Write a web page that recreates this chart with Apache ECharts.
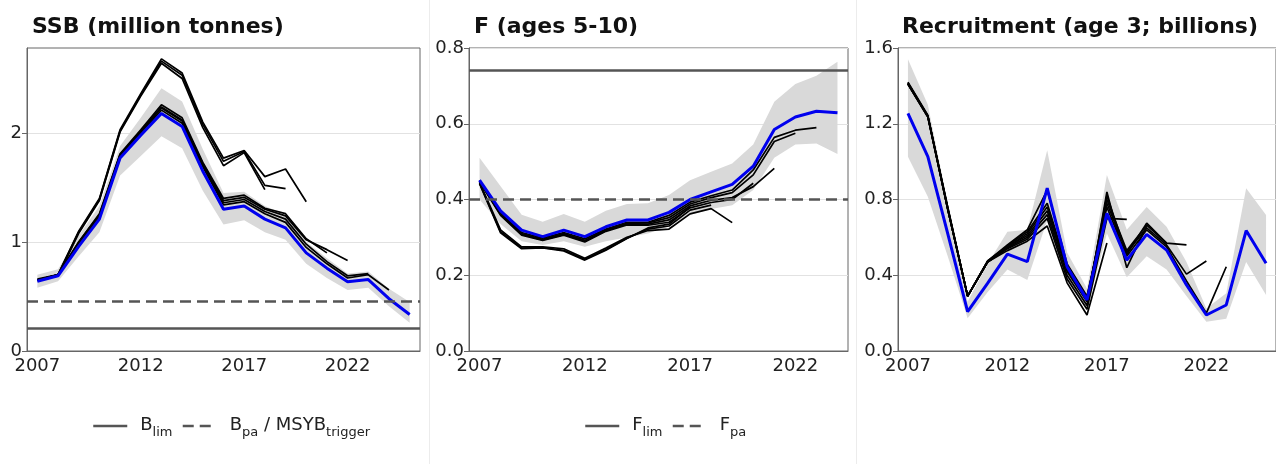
<!DOCTYPE html>
<html>
<head>
<meta charset="utf-8">
<script src="https://cdn.jsdelivr.net/npm/echarts@6/dist/echarts.min.js"></script>
<style>
  html, body { margin: 0; padding: 0; background: #fff; }
  #main { width: 1276px; height: 464px; }
</style>
</head>
<body>
<div id="main"></div>
<script>
  // years
  const yearsSSB = ['2007','2008','2009','2010','2011','2012','2013','2014','2015','2016','2017','2018','2019','2020','2021','2022','2023','2024','2025'];
  const yearsF = ['2007','2008','2009','2010','2011','2012','2013','2014','2015','2016','2017','2018','2019','2020','2021','2022','2023','2024'];
  const yearsRec = yearsSSB;

  // SSB (million tonnes)
  const ssbFinal = [0.64, 0.69, 0.96, 1.21, 1.77, 1.98, 2.18, 2.06, 1.65, 1.30, 1.33, 1.21, 1.13, 0.90, 0.76, 0.635, 0.655, 0.48, 0.335];
  const ssbLow = [0.58, 0.64, 0.87, 1.09, 1.61, 1.79, 1.97, 1.86, 1.47, 1.16, 1.20, 1.09, 1.02, 0.80, 0.67, 0.56, 0.58, 0.41, 0.26];
  const ssbHigh = [0.70, 0.75, 1.06, 1.33, 1.88, 2.14, 2.41, 2.29, 1.85, 1.45, 1.46, 1.33, 1.25, 1.00, 0.85, 0.71, 0.73, 0.57, 0.45];
  const ssbRetro2024 = [0.645, 0.70, 0.98, 1.23, 1.79, 2.00, 2.21, 2.09, 1.69, 1.34, 1.37, 1.26, 1.18, 0.95, 0.80, 0.67, 0.70, 0.56];
  const ssbRetro2023 = [0.65, 0.70, 0.99, 1.24, 1.80, 2.01, 2.23, 2.11, 1.71, 1.36, 1.39, 1.28, 1.21, 0.98, 0.82, 0.69, 0.71];
  const ssbRetro2022 = [0.65, 0.70, 1.00, 1.25, 1.80, 2.02, 2.24, 2.12, 1.72, 1.38, 1.41, 1.30, 1.24, 1.02, 0.93, 0.83];
  const ssbRetro2021 = [0.65, 0.70, 1.00, 1.26, 1.81, 2.03, 2.26, 2.14, 1.73, 1.40, 1.43, 1.31, 1.26, 1.03, 0.90];
  const ssbRetro2020 = [0.66, 0.70, 1.10, 1.40, 2.03, 2.36, 2.68, 2.55, 2.10, 1.77, 1.84, 1.60, 1.67, 1.37];
  const ssbRetro2019 = [0.65, 0.70, 1.09, 1.39, 2.02, 2.35, 2.66, 2.53, 2.08, 1.74, 1.83, 1.52, 1.49];
  const ssbRetro2018 = [0.65, 0.69, 1.08, 1.38, 2.01, 2.34, 2.64, 2.50, 2.05, 1.70, 1.82, 1.48];
  const bLim = 0.21;
  const bPa = 0.46;

  // F (ages 5-10)
  const fFinal = [0.451, 0.370, 0.319, 0.302, 0.319, 0.302, 0.328, 0.346, 0.346, 0.366, 0.400, 0.420, 0.440, 0.488, 0.585, 0.618, 0.633, 0.629];
  const fLow = [0.40, 0.335, 0.29, 0.28, 0.29, 0.275, 0.29, 0.30, 0.31, 0.33, 0.36, 0.375, 0.385, 0.425, 0.51, 0.545, 0.548, 0.52];
  const fHigh = [0.51, 0.435, 0.36, 0.341, 0.362, 0.341, 0.37, 0.388, 0.39, 0.412, 0.451, 0.473, 0.495, 0.545, 0.658, 0.705, 0.727, 0.764];
  const fRetro2023 = [0.450, 0.365, 0.313, 0.298, 0.313, 0.296, 0.322, 0.340, 0.340, 0.358, 0.393, 0.410, 0.425, 0.478, 0.564, 0.583, 0.590];
  const fRetro2022 = [0.449, 0.362, 0.310, 0.295, 0.310, 0.292, 0.320, 0.337, 0.338, 0.352, 0.388, 0.405, 0.418, 0.465, 0.553, 0.575];
  const fRetro2021 = [0.448, 0.360, 0.308, 0.293, 0.308, 0.290, 0.318, 0.335, 0.335, 0.346, 0.383, 0.398, 0.405, 0.434, 0.482];
  const fRetro2020 = [0.447, 0.358, 0.306, 0.292, 0.306, 0.288, 0.316, 0.333, 0.332, 0.340, 0.378, 0.392, 0.400, 0.443];
  const fRetro2019 = [0.445, 0.320, 0.275, 0.275, 0.270, 0.245, 0.272, 0.300, 0.318, 0.322, 0.362, 0.376, 0.339];
  const fRetro2018 = [0.443, 0.315, 0.272, 0.273, 0.266, 0.242, 0.268, 0.298, 0.322, 0.330, 0.372, 0.385];
  const fRetro2017 = [0.442, 0.312, 0.270, 0.272, 0.264, 0.240, 0.266, 0.297, 0.325, 0.335, 0.380];
  const fLim = 0.74;
  const fPa = 0.40;

  // Recruitment (age 3; billions)
  const recFinal = [1.255, 1.026, 0.62, 0.208, 0.357, 0.512, 0.472, 0.860, 0.445, 0.270, 0.727, 0.480, 0.616, 0.533, 0.349, 0.190, 0.243, 0.636, 0.463];
  const recLow = [1.026, 0.815, 0.50, 0.173, 0.31, 0.43, 0.375, 0.69, 0.375, 0.215, 0.62, 0.39, 0.50, 0.43, 0.29, 0.155, 0.17, 0.47, 0.296];
  const recHigh = [1.54, 1.30, 0.78, 0.26, 0.46, 0.63, 0.64, 1.06, 0.52, 0.33, 0.93, 0.64, 0.76, 0.656, 0.47, 0.225, 0.305, 0.86, 0.718];
  const recRetro2023 = [1.41, 1.24, 0.76, 0.29, 0.475, 0.56, 0.64, 0.85, 0.46, 0.29, 0.76, 0.50, 0.64, 0.55, 0.37, 0.20, 0.445];
  const recRetro2022 = [1.41, 1.24, 0.76, 0.29, 0.475, 0.555, 0.63, 0.78, 0.44, 0.28, 0.78, 0.52, 0.65, 0.56, 0.406, 0.475];
  const recRetro2021 = [1.415, 1.24, 0.75, 0.29, 0.47, 0.55, 0.62, 0.76, 0.43, 0.27, 0.80, 0.53, 0.665, 0.57, 0.56];
  const recRetro2020 = [1.42, 1.245, 0.75, 0.29, 0.47, 0.55, 0.61, 0.74, 0.42, 0.26, 0.82, 0.51, 0.675, 0.57];
  const recRetro2019 = [1.415, 1.24, 0.75, 0.29, 0.47, 0.545, 0.60, 0.72, 0.40, 0.24, 0.84, 0.44, 0.66];
  const recRetro2018 = [1.41, 1.235, 0.75, 0.29, 0.47, 0.54, 0.59, 0.70, 0.38, 0.22, 0.70, 0.695];
  const recRetro2017 = [1.41, 1.235, 0.75, 0.29, 0.47, 0.53, 0.58, 0.66, 0.36, 0.19, 0.57];

  const FONT = 'DejaVu Sans';
  const FRAME = '#666';
  const REF = '#555';

  let myChart = echarts.init(document.getElementById('main'), null, { renderer: 'canvas' });

  // grey confidence band: transparent lower line + stacked difference
  function band(idx, lo, hi) {
    let diff = hi.map((v, i) => +(v - lo[i]).toFixed(4));
    return [
      { type: 'line', xAxisIndex: idx, yAxisIndex: idx, stack: 'band' + idx, data: lo,
        symbol: 'none', lineStyle: { opacity: 0 }, silent: true, z: 1 },
      { type: 'line', xAxisIndex: idx, yAxisIndex: idx, stack: 'band' + idx, data: diff,
        symbol: 'none', lineStyle: { opacity: 0 }, areaStyle: { color: '#d9d9d9', opacity: 1 }, silent: true, z: 1 }
    ];
  }

  function refLine(idx, name, value, dashed) {
    let ls = { color: REF, width: 2.5, type: dashed ? [11, 6] : 'solid' };
    return {
      name: name, type: 'line', xAxisIndex: idx, yAxisIndex: idx, data: [],
      symbol: 'none', lineStyle: ls, itemStyle: { color: REF }, z: 2,
      markLine: { symbol: ['none', 'none'], silent: true, label: { show: false },
        lineStyle: ls, data: [{ yAxis: value }] }
    };
  }

  function peel(idx, data) {
    return { type: 'line', xAxisIndex: idx, yAxisIndex: idx, data: data, symbol: 'none',
      lineStyle: { color: '#000', width: 1.7 }, z: 3, silent: true };
  }

  function finalLine(idx, data) {
    return { type: 'line', xAxisIndex: idx, yAxisIndex: idx, data: data, symbol: 'none',
      lineStyle: { color: '#0000ee', width: 3 }, z: 4, silent: true };
  }

  function xAxis(idx, cats) {
    return {
      type: 'category', gridIndex: idx, data: cats, boundaryGap: true,
      axisLine: { lineStyle: { color: FRAME, width: 1 } },
      axisTick: { alignWithLabel: true, interval: 4, length: 5, lineStyle: { color: FRAME } },
      axisLabel: { interval: 4, margin: 6, fontFamily: FONT, fontSize: 18, color: '#222' },
      splitLine: { show: false }
    };
  }

  function yAxis(idx, max, interval, digits) {
    let ticks = [];
    for (let v = 0; v <= max + 1e-9; v += interval) ticks.push(+v.toFixed(2));
    return {
      type: 'value', gridIndex: idx, min: 0, max: max, interval: interval,
      axisLine: { show: true, lineStyle: { color: FRAME, width: 1 } },
      axisTick: { show: true, length: 5, lineStyle: { color: FRAME }, customValues: ticks },
      axisLabel: { margin: 5, fontFamily: FONT, fontSize: 18, color: '#222', customValues: ticks,
        formatter: v => v.toFixed(digits) },
      splitLine: { lineStyle: { color: '#e2e2e2', width: 1 } }
    };
  }

  let legendText = {
    fontFamily: FONT, color: '#222',
    rich: {
      m0: { fontFamily: FONT, fontSize: 18, lineHeight: 20, verticalAlign: 'top', padding: [0, 0, 0, 8], color: '#222' },
      m: { fontFamily: FONT, fontSize: 18, lineHeight: 20, verticalAlign: 'top', color: '#222' },
      sub: { fontFamily: FONT, fontSize: 13, lineHeight: 13, verticalAlign: 'top', padding: [10, 0, 0, 0], color: '#222' }
    }
  };
  let legendNames = {
    Blim: '{m0|B}{sub|lim}',
    Bpa: '{m0|B}{sub|pa}{m| / MSYB}{sub|trigger}',
    Flim: '{m0|F}{sub|lim}',
    Fpa: '{m0|F}{sub|pa}'
  };

  let legendBase = { top: 411, itemWidth: 34, itemHeight: 14, itemGap: 9, selectedMode: false,
    itemStyle: { opacity: 0 }, lineStyle: { width: 2.5, color: REF },
    textStyle: legendText, formatter: n => legendNames[n] };

  let option = {
    animation: false,
    backgroundColor: '#fff',
    title: [
      { text: 'SSB (million tonnes)', left: 27, top: 11, textStyle: { fontFamily: FONT, fontWeight: 'bold', fontSize: 22, color: '#111' } },
      { text: 'F (ages 5-10)', left: 469, top: 11, textStyle: { fontFamily: FONT, fontWeight: 'bold', fontSize: 22, color: '#111' } },
      { text: 'Recruitment (age 3; billions)', left: 897, top: 11, textStyle: { fontFamily: FONT, fontWeight: 'bold', fontSize: 22, color: '#111' } }
    ],
    grid: [
      { left: 27, top: 48, width: 393, height: 303, show: true, borderColor: FRAME, borderWidth: 1 },
      { left: 469, top: 48, width: 379, height: 303, show: true, borderColor: FRAME, borderWidth: 1 },
      { left: 898, top: 48, width: 379, height: 303, show: true, borderColor: FRAME, borderWidth: 1 }
    ],
    xAxis: [xAxis(0, yearsSSB), xAxis(1, yearsF), xAxis(2, yearsRec)],
    yAxis: [yAxis(0, 2.78, 1, 0), yAxis(1, 0.8, 0.2, 1), yAxis(2, 1.6, 0.4, 1)],
    legend: [
      Object.assign({ data: ['Blim', 'Bpa'], left: 87 }, legendBase),
      Object.assign({ data: ['Flim', 'Fpa'], left: 579 }, legendBase)
    ],
    graphic: [
      { type: 'line', shape: { x1: 429.5, y1: 0, x2: 429.5, y2: 464 }, style: { stroke: '#ececec', lineWidth: 1 }, silent: true },
      { type: 'line', shape: { x1: 856.5, y1: 0, x2: 856.5, y2: 464 }, style: { stroke: '#ececec', lineWidth: 1 }, silent: true }
    ],
    series: [].concat(
      band(0, ssbLow, ssbHigh),
      [refLine(0, 'Blim', bLim, false), refLine(0, 'Bpa', bPa, true)],
      [ssbRetro2018, ssbRetro2019, ssbRetro2020, ssbRetro2021, ssbRetro2022, ssbRetro2023, ssbRetro2024].map(d => peel(0, d)),
      [finalLine(0, ssbFinal)],

      band(1, fLow, fHigh),
      [refLine(1, 'Flim', fLim, false), refLine(1, 'Fpa', fPa, true)],
      [fRetro2017, fRetro2018, fRetro2019, fRetro2020, fRetro2021, fRetro2022, fRetro2023].map(d => peel(1, d)),
      [finalLine(1, fFinal)],

      band(2, recLow, recHigh),
      [recRetro2017, recRetro2018, recRetro2019, recRetro2020, recRetro2021, recRetro2022, recRetro2023].map(d => peel(2, d)),
      [finalLine(2, recFinal)]
    )
  };

  myChart.setOption(option);
</script>
</body>
</html>
